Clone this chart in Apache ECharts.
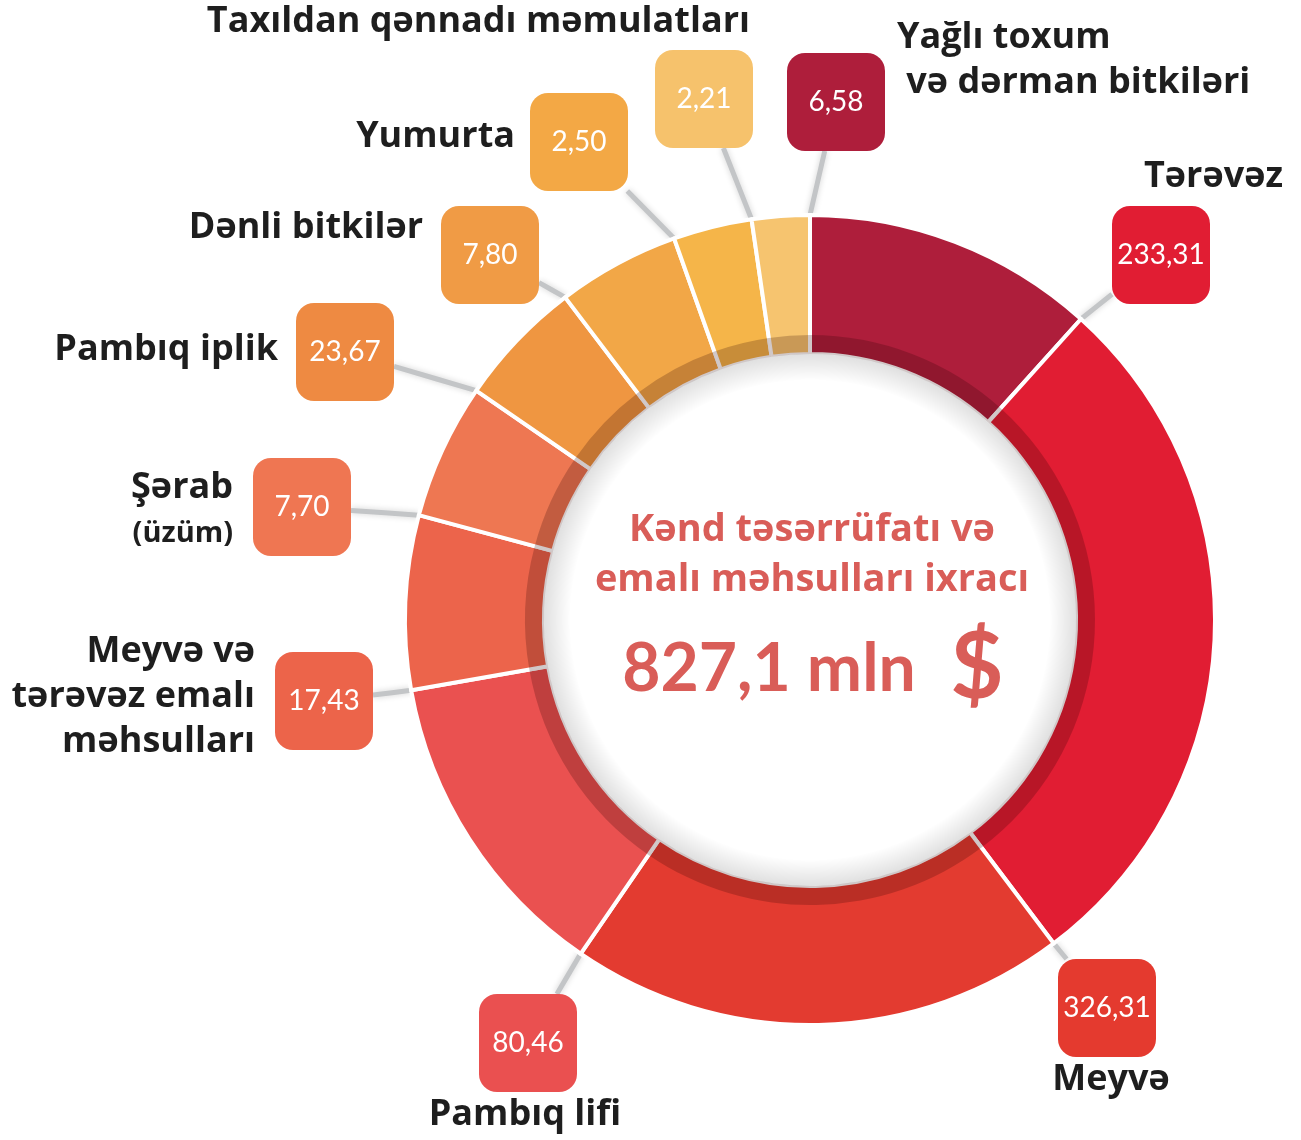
<!DOCTYPE html>
<html>
<head>
<meta charset="utf-8">
<title>Kənd təsərrüfatı ixracı</title>
<script src="https://cdn.jsdelivr.net/npm/echarts@6/dist/echarts.min.js"></script>
<style>
  html, body { margin: 0; padding: 0; background: #ffffff; }
  #exportDonut { width: 1301px; height: 1140px; }
</style>
</head>
<body>
<div id="exportDonut"></div>
<script>
// slices clockwise from 12 o'clock
const categories = [
  "Yağlı toxum\n və dərman bitkiləri",
  "Tərəvəz",
  "Meyvə",
  "Pambıq lifi",
  "Meyvə və\ntərəvəz emalı\nməhsulları",
  "Şərab\n(üzüm)",
  "Pambıq iplik",
  "Dənli bitkilər",
  "Yumurta",
  "Taxıldan qənnadı məmulatları",
];
// export value, mln $
const values = [6.58, 233.31, 326.31, 80.46, 17.43, 7.7, 23.67, 7.8, 2.5, 2.21];
// the ring is not proportional: arc of each slice in degrees
const arcDegrees = [42, 101, 71.5, 45.5, 25, 19.5, 18.3, 17.6, 11.3, 8.3];
const titleLines = ["Kənd təsərrüfatı və", "emalı məhsulları ixracı"];
const totalLabel = "827,1 mln";

// styles / layout
const sliceColors = ["#AE1E3B", "#E11D33", "#E33B30", "#EA5150", "#EC644B", "#EE7752", "#EF9641", "#F2A747", "#F5B549", "#F6C46F"];
const boxColors = ["#AE1E3B", "#E11D33", "#E43A2F", "#EA5050", "#EC644A", "#EF7652", "#EE8A42", "#F09B45", "#F3A845", "#F6C26C"];
const boxCenters = [[836, 102], [1161, 255], [1107, 1008], [528, 1043], [324, 701], [302, 507], [345, 352], [490, 255], [579, 142], [704, 99]];
const nameAnchors = [
  [897, 60, "left"], [1283, 177, "right"], [1111, 1080, "center"], [525, 1115, "center"],
  [255, 697, "right"], [233, 511, "right"], [278, 350, "right"], [423, 228, "right"],
  [515, 137, "right"], [750, 22, "right"],
];
const CX = 810, CY = 620, R_IN = 266, R_OUT = 405, BOX = 98;
const fmt = (v) => v.toFixed(2).replace(".", ",");
const NAME_FONT = "'Open Sans', Lato, sans-serif";
const NUM_FONT = "Lato, 'Open Sans', sans-serif";

// leader line: from the slice's starting corner on the outer edge to the box edge
function leaderPoints(i) {
  let start = 0;
  for (let k = 0; k < i; k++) start += arcDegrees[k];
  let a = (start * Math.PI) / 180;
  let p0 = [CX + R_OUT * Math.sin(a), CY - R_OUT * Math.cos(a)];
  let c = boxCenters[i];
  let dx = p0[0] - c[0], dy = p0[1] - c[1];
  let t = Math.min((BOX / 2) / Math.abs(dx || 1e-6), (BOX / 2) / Math.abs(dy || 1e-6));
  let p2 = [c[0] + dx * t, c[1] + dy * t];
  return [p0, [(p0[0] + p2[0]) / 2, (p0[1] + p2[1]) / 2], p2];
}

let chart = echarts.init(document.getElementById("exportDonut"));

let ringData = categories.map((name, i) => ({
  name: name,
  value: arcDegrees[i],
  itemStyle: { color: sliceColors[i] },
  label: { backgroundColor: boxColors[i] },
}));

let nameTexts = categories.map((name, i) => {
  let lines = name.split("\n");
  return {
    type: "text",
    x: nameAnchors[i][0],
    y: nameAnchors[i][1],
    style: {
      text: lines.map((l) => (l.startsWith("(") ? "{s|" + l + "}" : "{b|" + l + "}")).join("\n"),
      textAlign: nameAnchors[i][2],
      textVerticalAlign: "middle",
      rich: {
        b: { fontFamily: NAME_FONT, fontWeight: 700, fontSize: 36, lineHeight: 45, fill: "#1E1E1E", align: nameAnchors[i][2] },
        s: { fontFamily: NAME_FONT, fontWeight: 700, fontSize: 29, lineHeight: 47, fill: "#1E1E1E", align: nameAnchors[i][2] },
      },
    },
  };
});

let option = {
  animation: false,
  series: [
    {
      type: "pie",
      center: [CX, CY],
      radius: [R_IN, R_OUT],
      startAngle: 90,
      clockwise: true,
      avoidLabelOverlap: false,
      itemStyle: { borderColor: "#ffffff", borderWidth: 4 },
      label: {
        show: true,
        position: "outside",
        formatter: (p) => fmt(values[p.dataIndex]),
        color: "#ffffff",
        fontFamily: NUM_FONT,
        fontWeight: 400,
        fontSize: 28,
        width: BOX,
        height: BOX,
        lineHeight: BOX,
        align: "center",
        verticalAlign: "middle",
        borderRadius: 18,
        padding: 0,
      },
      labelLine: {
        show: true,
        length: 10,
        length2: 0,
        lineStyle: { color: "#C3C5C7", width: 5, shadowBlur: 6, shadowColor: "rgba(0,0,0,0.18)" },
      },
      labelLayout: (p) => ({
        x: boxCenters[p.dataIndex][0],
        y: boxCenters[p.dataIndex][1],
        align: "center",
        verticalAlign: "middle",
        labelLinePoints: leaderPoints(p.dataIndex),
      }),
      emphasis: { disabled: true },
      data: ringData,
    },
    {
      // darker inner band of the ring
      type: "pie",
      center: [CX, CY],
      radius: [R_IN, 285],
      startAngle: 90,
      silent: true,
      label: { show: false },
      labelLine: { show: false },
      itemStyle: { color: "rgba(40,0,0,0.22)" },
      data: arcDegrees.map((v) => ({ value: v })),
      z: 3,
    },
    {
      // soft shade on the edge of the white centre
      type: "pie",
      center: [CX, CY],
      radius: [240, R_IN],
      silent: true,
      label: { show: false },
      labelLine: { show: false },
      itemStyle: {
        color: {
          type: "radial", x: 0.5, y: 0.5, r: 0.5,
          colorStops: [
            { offset: 0.9, color: "rgba(0,0,0,0)" },
            { offset: 1, color: "rgba(0,0,0,0.12)" },
          ],
        },
      },
      data: [{ value: 1 }],
      z: 3,
    },
  ],
  graphic: [
    ...nameTexts,
    {
      type: "text",
      x: 812,
      y: 530,
      style: { text: titleLines[0], fontFamily: NAME_FONT, fontWeight: 700, fontSize: 38, fill: "#D95D58", textAlign: "center", textVerticalAlign: "middle" },
    },
    {
      type: "text",
      x: 812,
      y: 580,
      style: { text: titleLines[1], fontFamily: NAME_FONT, fontWeight: 700, fontSize: 38, fill: "#D95D58", textAlign: "center", textVerticalAlign: "middle" },
    },
    {
      type: "text",
      x: 769,
      y: 670,
      style: { text: totalLabel, fontFamily: NUM_FONT, fontWeight: 700, fontSize: 66, fill: "#D95D58", textAlign: "center", textVerticalAlign: "middle" },
    },
    {
      type: "text",
      x: 977,
      y: 668,
      style: { text: "$", fontFamily: NUM_FONT, fontWeight: 700, fontSize: 92, fill: "#D95D58", textAlign: "center", textVerticalAlign: "middle" },
    },
  ],
};
chart.setOption(option, true);
</script>
</body>
</html>
